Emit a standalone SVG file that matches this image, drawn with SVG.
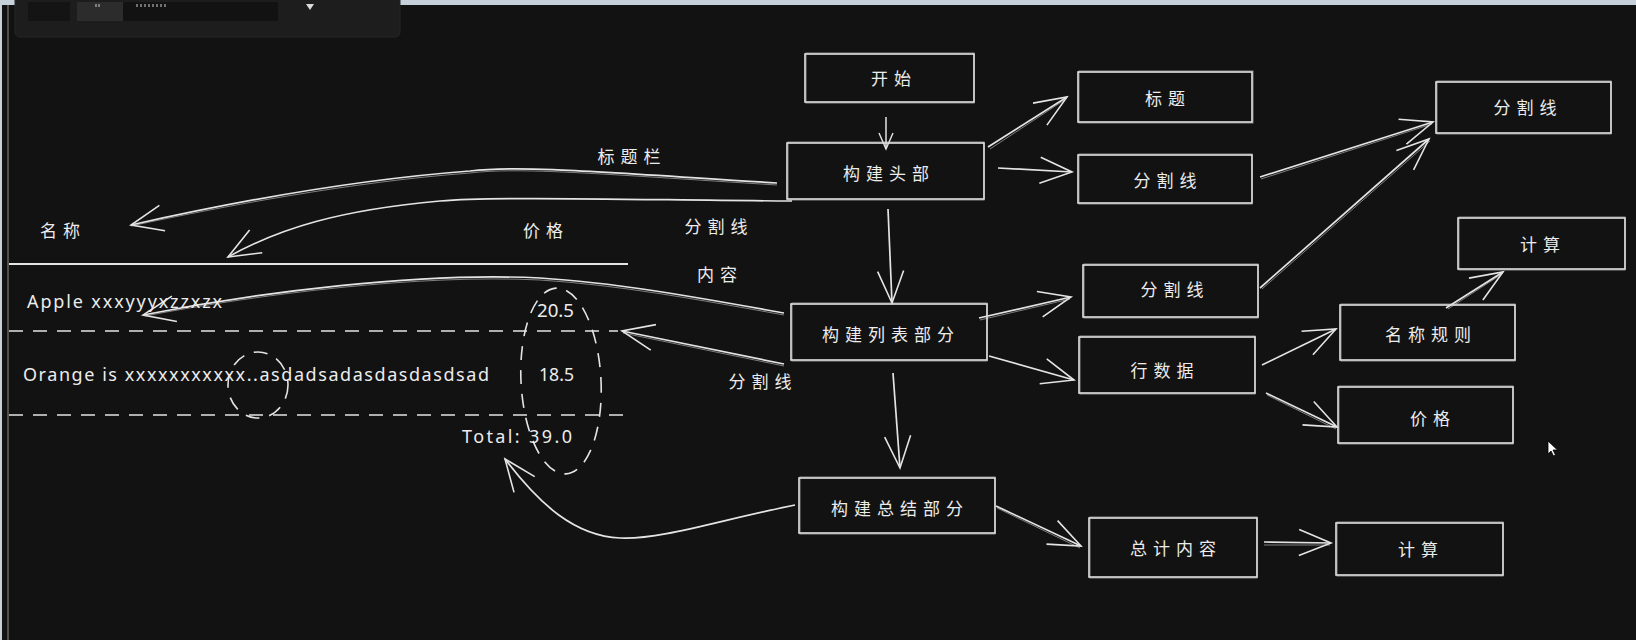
<svg xmlns="http://www.w3.org/2000/svg" width="1636" height="640" viewBox="0 0 1636 640">
<style>
.b{fill:none;stroke:#e4e4e4;stroke-width:1.6}
.b2{fill:none;stroke:#d6d6d6;stroke-width:1;opacity:.6}
.c{fill:none;stroke:#e4e4e4;stroke-width:1.7;marker-end:url(#ah)}
.cs{fill:none;stroke:#e4e4e4;stroke-width:1.5;marker-end:url(#ahs)}
.c2{fill:none;stroke:#d6d6d6;stroke-width:1;opacity:.55}
.d{fill:none;stroke:#e4e4e4;stroke-width:1.6;stroke-dasharray:14 10}
.t{font-family:"Noto Sans CJK SC","Noto Sans CJK JP",sans-serif;font-size:17px;fill:#ececec;letter-spacing:6px;text-anchor:middle;dominant-baseline:central}
.l{font-family:"Noto Sans","Liberation Sans",sans-serif;font-size:18px;fill:#ececec}
</style>
<defs>
<marker id="ah" markerUnits="userSpaceOnUse" orient="auto" refX="0" refY="0" markerWidth="40" markerHeight="40" overflow="visible">
<path d="M-32,-13 L0,0 L-32,13" fill="none" stroke="#e4e4e4" stroke-width="1.6"/>
</marker>
<marker id="ahs" markerUnits="userSpaceOnUse" orient="auto" refX="0" refY="0" markerWidth="20" markerHeight="20" overflow="visible">
<path d="M-16,-7 L0,0 L-16,7" fill="none" stroke="#e4e4e4" stroke-width="1.4"/>
</marker>
</defs>
<rect class="bg" x="0" y="0" width="1636" height="640" fill="#121212"/>
<g id="chrome">
<rect x="0" y="0" width="1636" height="5" fill="#c6d0da"/>
<rect x="0" y="0" width="2" height="640" fill="#c6d0da"/>
<line x1="8" y1="5" x2="8" y2="640" stroke="#8a8a8a" stroke-width="1"/>
<rect x="15" y="-6" width="385" height="43" rx="5" fill="#1d1d1d" stroke="#262626"/>
<rect x="28" y="2" width="42" height="19" fill="#141414"/>
<rect x="77" y="2" width="46" height="19" fill="#2c2c2c"/>
<rect x="123" y="2" width="155" height="19" fill="#121212"/>
<path d="M137,4v3M141,4v3M145,4v3M149,4v3M153,4v3M157,4v3M161,4v3M165,4v3M96,4v3M99,4v3" stroke="#cfcfcf" stroke-width="1"/>
<path d="M306,4 L310,10 L314,4 Z" fill="#dcdcdc"/>
</g>
<g id="connectors">
<path class="c" d="M777,183 C600,172 520,165 470,171 C350,180 220,205 131,225"/>
<path class="c2" d="M777,185 C600,174 520,167 470,173 C350,182 220,207 131,226"/>
<path class="c" d="M792,201 C640,200 500,196 440,201 C340,210 280,228 228,257"/>
<path class="c" d="M784,313 C700,298 620,283 540,278 C420,272 260,292 143,315"/>
<path class="c2" d="M784,315 C700,300 620,285 540,280 C420,274 260,294 145,316"/>
<path class="c" d="M784,364 L622,331"/>
<path class="c2" d="M784,366 L623,333"/>
<path class="c" d="M795,505 C720,520 660,540 620,538 C575,536 540,505 505,459"/>
<path class="cs" d="M886,117 L886,149"/>
<path class="c" d="M988,147 L1067,97"/>
<path class="c2" d="M990,149 L1066,99"/>
<path class="c" d="M998,168 L1072,172"/>
<path class="c" d="M1260,177 L1433,122"/>
<path class="c2" d="M1261,179 L1432,124"/>
<path class="c" d="M1260,288 L1429,139"/>
<path class="c2" d="M1262,289 L1430,141"/>
<path class="c" d="M888,209 L892,303"/>
<path class="c" d="M979,318 L1071,297"/>
<path class="c2" d="M980,320 L1070,299"/>
<path class="c" d="M989,356 L1074,380"/>
<path class="c" d="M893,373 L900,468"/>
<path class="c" d="M996,506 L1081,546"/>
<path class="c2" d="M997,508 L1080,548"/>
<path class="c" d="M1264,542 L1331,543"/>
<path class="c2" d="M1264,545 L1330,545"/>
<path class="c" d="M1262,365 L1336,329"/>
<path class="c" d="M1266,393 L1337,427"/>
<path class="c2" d="M1267,395 L1336,429"/>
<path class="c" d="M1446,308 L1503,272"/>
<path class="c2" d="M1448,309 L1502,274"/>
</g>
<g id="table">
<line x1="9" y1="264" x2="628" y2="264" stroke="#e4e4e4" stroke-width="1.8"/>
<line class="d" x1="9" y1="331" x2="618" y2="331"/>
<line class="d" x1="9" y1="415" x2="624" y2="415"/>
<ellipse class="d" cx="561" cy="381" rx="40" ry="93" transform="rotate(-3 561 381)"/>
<ellipse class="d" cx="258" cy="385" rx="30" ry="33"/>
<text class="l" x="27" y="308" textLength="195" lengthAdjust="spacing">Apple xxxyyyxzzxzx</text>
<text class="l" x="23" y="381" textLength="466" lengthAdjust="spacing">Orange is xxxxxxxxxxx..asdadsadasdasdasdsad</text>
<text class="l" x="537" y="317" textLength="37" lengthAdjust="spacingAndGlyphs">20.5</text>
<text class="l" x="539" y="381" textLength="35" lengthAdjust="spacingAndGlyphs">18.5</text>
<text class="l" x="462" y="443" textLength="110" lengthAdjust="spacing">Total: 39.0</text>
<text class="t" x="63" y="229">名称</text>
<text class="t" x="546" y="229">价格</text>
<text class="t" x="632" y="155">标题栏</text>
<text class="t" x="719" y="225">分割线</text>
<text class="t" x="720" y="273">内容</text>
<text class="t" x="763" y="380">分割线</text>
</g>
<g id="n-start"><rect class="b" x="805" y="54" width="169" height="48"/><rect class="b2" x="806" y="53" width="168" height="50"/><text class="t" x="894" y="77">开始</text></g>
<g id="n-head"><rect class="b" x="787" y="143" width="197" height="56"/><rect class="b2" x="788" y="142" width="196" height="58"/><text class="t" x="889" y="172">构建头部</text></g>
<g id="n-title"><rect class="b" x="1078" y="72" width="174" height="50"/><rect class="b2" x="1079" y="71" width="174" height="52"/><text class="t" x="1168" y="97">标题</text></g>
<g id="n-sep1"><rect class="b" x="1078" y="155" width="174" height="48"/><rect class="b2" x="1079" y="154" width="173" height="50"/><text class="t" x="1168" y="179">分割线</text></g>
<g id="n-sep-right"><rect class="b" x="1436" y="82" width="175" height="51"/><rect class="b2" x="1437" y="81" width="174" height="53"/><text class="t" x="1528" y="106">分割线</text></g>
<g id="n-calc-top"><rect class="b" x="1458" y="218" width="167" height="51"/><rect class="b2" x="1459" y="217" width="166" height="53"/><text class="t" x="1543" y="243">计算</text></g>
<g id="n-sep2"><rect class="b" x="1083" y="265" width="175" height="52"/><rect class="b2" x="1084" y="264" width="174" height="54"/><text class="t" x="1175" y="288">分割线</text></g>
<g id="n-list"><rect class="b" x="791" y="304" width="196" height="56"/><rect class="b2" x="792" y="303" width="195" height="58"/><text class="t" x="891" y="333">构建列表部分</text></g>
<g id="n-row"><rect class="b" x="1079" y="337" width="176" height="56"/><rect class="b2" x="1080" y="336" width="175" height="58"/><text class="t" x="1165" y="369">行数据</text></g>
<g id="n-name"><rect class="b" x="1340" y="305" width="175" height="55"/><rect class="b2" x="1341" y="304" width="174" height="57"/><text class="t" x="1431" y="333">名称规则</text></g>
<g id="n-price"><rect class="b" x="1338" y="387" width="175" height="56"/><rect class="b2" x="1339" y="386" width="174" height="58"/><text class="t" x="1433" y="417">价格</text></g>
<g id="n-summary"><rect class="b" x="799" y="478" width="196" height="55"/><rect class="b2" x="800" y="477" width="195" height="57"/><text class="t" x="900" y="507">构建总结部分</text></g>
<g id="n-total"><rect class="b" x="1089" y="518" width="168" height="59"/><rect class="b2" x="1090" y="517" width="167" height="61"/><text class="t" x="1176" y="547">总计内容</text></g>
<g id="n-calc-bottom"><rect class="b" x="1336" y="523" width="167" height="52"/><rect class="b2" x="1337" y="522" width="166" height="54"/><text class="t" x="1421" y="548">计算</text></g>
<g id="cursor"><path d="M1548,441 L1548,454 L1551,451 L1553.5,456 L1555.5,455 L1553,450 L1557.5,450 Z" fill="#ffffff" stroke="#000000" stroke-width="0.8"/></g>
</svg>
